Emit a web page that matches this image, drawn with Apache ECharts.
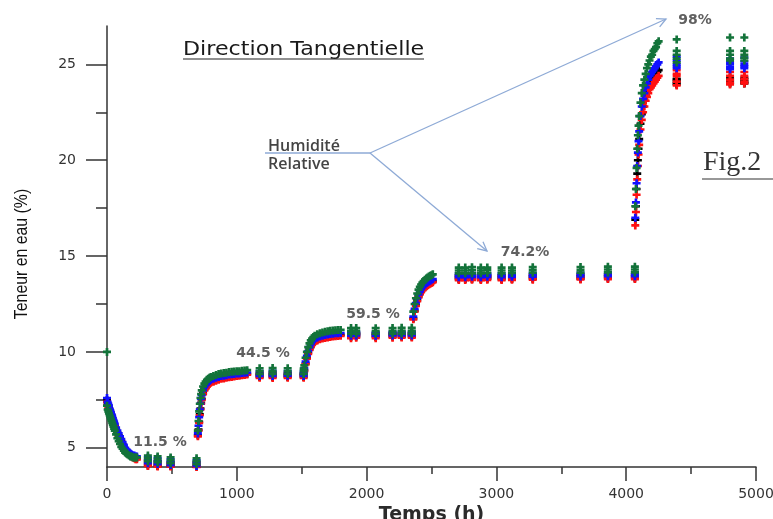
<!DOCTYPE html>
<html>
<head>
<meta charset="utf-8">
<script src="https://cdn.jsdelivr.net/npm/echarts@6/dist/echarts.min.js"></script>
<style>
  html, body { margin: 0; padding: 0; background: #fff; }
  #main { width: 773px; height: 519px; }
</style>
</head>
<body>
<div id="main"></div>
<script>
// temps de mesure (h), partagés par les 4 échantillons
const temps = [
  // 11.5 %
  0, 5, 10, 15, 20, 25, 30, 35, 40, 45, 50, 55, 60, 70, 80, 90, 100, 110, 120, 130, 140, 150, 160, 170, 180, 190, 200, 210, 220, 230,
  315, 315, 315, 390, 390, 390, 490, 490, 490, 690, 690, 690,
  // 44.5 %
  700, 705, 710, 715, 720, 725, 730, 740, 750, 760, 770, 780, 790, 800, 820, 840, 860, 880, 900, 920, 940, 960, 980, 1000, 1020, 1040, 1060, 1080,
  1176, 1176, 1176, 1276, 1276, 1276, 1392, 1392, 1392, 1515, 1515, 1515,
  // 59.5 %
  1520, 1530, 1540, 1550, 1560, 1570, 1580, 1590, 1600, 1620, 1640, 1660, 1680, 1700, 1720, 1740, 1760, 1780, 1800,
  1880, 1880, 1880, 1920, 1920, 1920, 2070, 2070, 2070, 2200, 2200, 2200, 2270, 2270, 2270, 2348, 2348, 2348,
  // 74.2 %
  2360, 2370, 2380, 2390, 2400, 2410, 2420, 2430, 2440, 2450, 2460, 2470, 2480, 2490, 2500, 2510,
  2710, 2710, 2710, 2760, 2760, 2760, 2812, 2812, 2812, 2880, 2880, 2880, 2930, 2930, 2930, 3040, 3040, 3040,
  3120, 3120, 3120, 3280, 3280, 3280, 3648, 3648, 3648, 3859, 3859, 3859, 4067, 4067, 4067,
  // 98 %
  4070, 4075, 4080, 4085, 4090, 4095, 4100, 4110, 4120, 4130, 4140, 4150, 4160, 4170, 4180, 4190, 4200, 4210, 4220, 4230, 4240, 4250,
  4389, 4389, 4389, 4389, 4389, 4800, 4800, 4800, 4800, 4800, 4910, 4910, 4910, 4910, 4910
];

const teneurNoir = [
  7.5, 7.3, 7.2, 7.1, 7.0, 6.9, 6.8, 6.7, 6.55, 6.45, 6.35, 6.25, 6.15, 5.95, 5.8, 5.65, 5.5, 5.35, 5.2, 5.05, 4.95, 4.85, 4.75, 4.7, 4.65, 4.6, 4.55, 4.5, 4.5, 4.45,
  4.35, 4.2, 4.08, 4.3, 4.15, 4.05, 4.25, 4.12, 4.05, 4.25, 4.1, 4.02,
  5.65, 5.95, 6.35, 6.75, 7.05, 7.35, 7.55, 7.85, 8.05, 8.15, 8.25, 8.35, 8.4, 8.45, 8.5, 8.55, 8.6, 8.65, 8.67, 8.7, 8.72, 8.74, 8.76, 8.78, 8.8, 8.82, 8.84, 8.86,
  8.9, 8.8, 8.7, 8.92, 8.8, 8.7, 8.9, 8.78, 8.7, 8.88, 8.8, 8.7,
  9.05, 9.4, 9.7, 9.95, 10.15, 10.3, 10.42, 10.5, 10.57, 10.65, 10.7, 10.75, 10.78, 10.81, 10.83, 10.85, 10.87, 10.88, 10.89,
  11.0, 10.9, 10.78, 11.0, 10.9, 10.8, 10.98, 10.88, 10.78, 11.0, 10.9, 10.8, 11.0, 10.9, 10.8, 11.0, 10.9, 10.8,
  11.75, 12.15, 12.45, 12.7, 12.9, 13.05, 13.17, 13.27, 13.35, 13.42, 13.48, 13.53, 13.57, 13.61, 13.65, 13.69,
  14.0, 13.9, 13.8, 14.0, 13.9, 13.8, 14.02, 13.9, 13.8, 14.0, 13.9, 13.8, 14.0, 13.92, 13.82, 14.0, 13.9, 13.8,
  14.0, 13.9, 13.8, 14.02, 13.92, 13.82, 14.02, 13.92, 13.82, 14.05, 13.95, 13.85, 14.05, 13.95, 13.85,
  16.9, 17.6, 18.5, 19.3, 20.0, 20.6, 21.1, 21.9, 22.4, 22.8, 23.1, 23.4, 23.6, 23.8, 24.0, 24.1, 24.2, 24.3, 24.4, 24.5, 24.6, 24.7,
  24.25, 24.2, 24.1, 24.0, 23.95, 24.3, 24.2, 24.15, 24.05, 24.0, 24.3, 24.2, 24.1, 24.05, 24.0
];

const teneurRouge = [
  7.4, 7.2, 7.1, 7.0, 6.9, 6.8, 6.7, 6.6, 6.5, 6.4, 6.3, 6.2, 6.1, 5.9, 5.75, 5.6, 5.45, 5.3, 5.15, 5.0, 4.9, 4.8, 4.7, 4.65, 4.6, 4.55, 4.5, 4.45, 4.4, 4.4,
  4.3, 4.15, 4.05, 4.25, 4.1, 4.02, 4.2, 4.08, 4.02, 4.2, 4.05, 4.0,
  5.6, 5.9, 6.3, 6.7, 7.0, 7.3, 7.5, 7.8, 8.0, 8.1, 8.2, 8.3, 8.35, 8.4, 8.45, 8.5, 8.55, 8.6, 8.62, 8.65, 8.68, 8.7, 8.72, 8.74, 8.76, 8.78, 8.8, 8.82,
  8.85, 8.75, 8.65, 8.86, 8.75, 8.64, 8.85, 8.74, 8.65, 8.84, 8.75, 8.65,
  9.0, 9.35, 9.65, 9.9, 10.1, 10.25, 10.37, 10.45, 10.52, 10.6, 10.66, 10.7, 10.73, 10.76, 10.78, 10.8, 10.82, 10.83, 10.84,
  10.95, 10.85, 10.72, 10.95, 10.85, 10.74, 10.94, 10.84, 10.72, 10.95, 10.85, 10.74, 10.96, 10.86, 10.75, 10.96, 10.86, 10.75,
  11.7, 12.1, 12.4, 12.65, 12.85, 13.0, 13.12, 13.22, 13.3, 13.37, 13.43, 13.48, 13.52, 13.56, 13.6, 13.64,
  13.95, 13.85, 13.75, 13.95, 13.85, 13.75, 13.96, 13.86, 13.76, 13.95, 13.85, 13.75, 13.95, 13.86, 13.76, 13.95, 13.85, 13.75,
  13.95, 13.85, 13.76, 13.97, 13.87, 13.77, 13.97, 13.87, 13.78, 14.0, 13.9, 13.8, 14.0, 13.9, 13.8,
  16.6, 17.3, 18.2, 19.0, 19.7, 20.3, 20.8, 21.6, 22.1, 22.5, 22.8, 23.1, 23.3, 23.5, 23.7, 23.8, 23.9, 24.0, 24.1, 24.2, 24.3, 24.4,
  24.7, 24.5, 24.4, 24.1, 23.9, 24.6, 24.4, 24.2, 24.05, 23.95, 24.6, 24.4, 24.25, 24.1, 24.0
];

const teneurBleu = [
  7.6, 7.4, 7.3, 7.2, 7.05, 6.95, 6.85, 6.75, 6.65, 6.55, 6.45, 6.35, 6.25, 6.05, 5.9, 5.75, 5.6, 5.45, 5.3, 5.15, 5.0, 4.9, 4.8, 4.75, 4.7, 4.65, 4.6, 4.6, 4.55, 4.55,
  4.5, 4.35, 4.2, 4.45, 4.3, 4.15, 4.4, 4.25, 4.1, 4.35, 4.2, 4.05,
  5.75, 6.15, 6.6, 7.0, 7.3, 7.55, 7.75, 8.0, 8.17, 8.28, 8.38, 8.45, 8.5, 8.55, 8.6, 8.65, 8.7, 8.74, 8.76, 8.79, 8.82, 8.84, 8.85, 8.87, 8.88, 8.9, 8.92, 8.93,
  9.0, 8.85, 8.75, 9.02, 8.86, 8.75, 9.0, 8.85, 8.76, 8.98, 8.85, 8.75,
  9.15, 9.5, 9.8, 10.05, 10.25, 10.4, 10.52, 10.6, 10.67, 10.75, 10.8, 10.85, 10.88, 10.91, 10.93, 10.95, 10.97, 10.98, 10.99,
  11.05, 10.95, 10.85, 11.05, 10.95, 10.86, 11.04, 10.94, 10.85, 11.05, 10.95, 10.86, 11.06, 10.96, 10.86, 11.06, 10.96, 10.86,
  11.85, 12.25, 12.55, 12.8, 13.0, 13.15, 13.28, 13.38, 13.46, 13.53, 13.59, 13.64, 13.68, 13.72, 13.76, 13.8,
  14.1, 14.0, 13.9, 14.1, 14.0, 13.9, 14.12, 14.02, 13.92, 14.1, 14.0, 13.9, 14.1, 14.02, 13.92, 14.1, 14.0, 13.9,
  14.1, 14.0, 13.92, 14.12, 14.02, 13.93, 14.13, 14.03, 13.94, 14.15, 14.05, 13.95, 14.15, 14.05, 13.95,
  17.0, 17.8, 18.8, 19.7, 20.4, 21.0, 21.5, 22.3, 22.8, 23.2, 23.5, 23.8, 24.0, 24.2, 24.4, 24.5, 24.6, 24.7, 24.8, 24.9, 25.0, 25.1,
  25.4, 25.2, 25.0, 24.9, 24.8, 25.3, 25.1, 25.0, 24.85, 24.75, 25.35, 25.15, 25.0, 24.9, 24.8
];

const teneurVert = [
  7.2, 7.0, 6.9, 6.8, 6.7, 6.6, 6.5, 6.4, 6.3, 6.2, 6.1, 6.0, 5.9, 5.7, 5.5, 5.35, 5.2, 5.05, 4.95, 4.85, 4.75, 4.7, 4.65, 4.6, 4.55, 4.55, 4.5, 4.5, 4.5, 4.5,
  4.6, 4.45, 4.3, 4.55, 4.4, 4.25, 4.5, 4.35, 4.2, 4.45, 4.3, 4.15,
  5.9, 6.4, 6.9, 7.3, 7.6, 7.8, 8.0, 8.2, 8.35, 8.45, 8.55, 8.6, 8.65, 8.7, 8.75, 8.8, 8.85, 8.88, 8.9, 8.92, 8.95, 8.97, 8.98, 9.0, 9.0, 9.02, 9.03, 9.05,
  9.15, 9.0, 8.85, 9.16, 9.0, 8.86, 9.15, 9.0, 8.85, 9.13, 9.0, 8.85,
  9.3, 9.7, 10.0, 10.25, 10.45, 10.6, 10.7, 10.78, 10.85, 10.92, 10.98, 11.02, 11.05, 11.08, 11.1, 11.12, 11.13, 11.14, 11.15,
  11.25, 11.1, 10.95, 11.25, 11.1, 10.96, 11.24, 11.08, 10.95, 11.25, 11.1, 10.96, 11.26, 11.1, 10.96, 11.26, 11.1, 10.96,
  12.1, 12.5, 12.8, 13.05, 13.25, 13.4, 13.52, 13.62, 13.7, 13.77, 13.83, 13.88, 13.93, 13.97, 14.0, 14.05,
  14.4, 14.25, 14.1, 14.4, 14.25, 14.1, 14.42, 14.26, 14.1, 14.4, 14.25, 14.1, 14.4, 14.26, 14.12, 14.4, 14.25, 14.1,
  14.4, 14.25, 14.12, 14.42, 14.27, 14.13, 14.43, 14.28, 14.14, 14.45, 14.3, 14.15, 14.45, 14.3, 14.15,
  17.6, 18.5, 19.6, 20.6, 21.3, 21.8, 22.3, 23.0, 23.5, 23.9, 24.2, 24.5, 24.8, 25.0, 25.2, 25.4, 25.5, 25.7, 25.8, 25.9, 26.1, 26.2,
  26.3, 25.7, 25.5, 25.3, 25.1, 26.4, 25.7, 25.5, 25.3, 25.2, 26.4, 25.7, 25.5, 25.35, 25.2
];

// point isolé (vert) sur l'axe des ordonnées
const pointIsoleVert = [[0, 10]];

const ticksMajeursY = [5, 10, 15, 20, 25];
const ticksMineursY = [7.5, 12.5, 17.5, 22.5];

const plusSymbol = 'path://M3,0H6V3H9V6H6V9H3V6H0V3H3Z';

function points(vals) {
  return temps.map(function (t, i) { return [t, vals[i]]; });
}

function serie(name, color, data) {
  return {
    name: name,
    type: 'scatter',
    symbol: plusSymbol,
    symbolSize: 8,
    itemStyle: { color: color, opacity: 1 },
    emphasis: { disabled: true },
    data: data
  };
}

// flèche avec pointe ouverte (annotation)
function fleche(x1, y1, x2, y2) {
  let dx = x2 - x1, dy = y2 - y1;
  let len = Math.sqrt(dx * dx + dy * dy);
  let ux = dx / len, uy = dy / len;
  let nx = -uy, ny = ux;
  let h = 9, w = 4.5;
  let style = { stroke: '#8eaad6', lineWidth: 1.3, fill: null };
  return [
    { type: 'line', shape: { x1: x1, y1: y1, x2: x2, y2: y2 }, style: style },
    {
      type: 'polyline',
      shape: { points: [[x2 - h * ux + w * nx, y2 - h * uy + w * ny], [x2, y2], [x2 - h * ux - w * nx, y2 - h * uy - w * ny]] },
      style: style
    }
  ];
}

function texte(x, y, txt, font, color, align) {
  return {
    type: 'text', x: x, y: y,
    style: { text: txt, font: font, fill: color, align: align || 'left', verticalAlign: 'middle' }
  };
}

const axisColor = '#333';
const labelFont = 'DejaVu Sans';
const pctFont = 'bold 14px "DejaVu Sans"';

let chart = echarts.init(document.getElementById('main'));
chart.setOption({
  animation: false,
  backgroundColor: '#fff',
  grid: { left: 107, right: 17, top: 26, bottom: 52, outerBoundsMode: 'none', containLabel: false },
  xAxis: {
    type: 'value',
    min: 0,
    max: 5000,
    interval: 1000,
    name: 'Temps (h)',
    nameLocation: 'middle',
    nameGap: 35,
    nameTextStyle: { fontFamily: labelFont, fontWeight: 'bold', fontSize: 19, color: '#2b2b2b' },
    axisLine: { onZero: false, lineStyle: { color: axisColor, width: 1.5 } },
    axisTick: { length: 14, lineStyle: { color: axisColor, width: 1.5 } },
    minorTick: { show: true, splitNumber: 2, length: 7, lineStyle: { color: axisColor, width: 1.5 } },
    axisLabel: {
      margin: 20, fontFamily: labelFont, fontSize: 14, color: '#333',
      formatter: function (v) { return String(v); }
    },
    splitLine: { show: false },
    minorSplitLine: { show: false }
  },
  yAxis: [
    {
      type: 'value',
      min: 4,
      max: 27,
      axisLine: { show: true, onZero: false, lineStyle: { color: axisColor, width: 1.5 } },
      axisTick: { show: true, length: 21, customValues: ticksMajeursY, lineStyle: { color: axisColor, width: 1.5 } },
      axisLabel: { customValues: ticksMajeursY, margin: 31, fontFamily: labelFont, fontSize: 14, color: '#333' },
      splitLine: { show: false }
    },
    {
      type: 'value',
      min: 4,
      max: 27,
      position: 'left',
      axisLine: { show: false, onZero: false },
      axisTick: { show: true, length: 11, customValues: ticksMineursY, lineStyle: { color: axisColor, width: 1.5 } },
      axisLabel: { show: false },
      splitLine: { show: false }
    }
  ],
  series: [
    serie('Noir', '#000000', points(teneurNoir)),
    serie('Rouge', '#ff1010', points(teneurRouge)),
    serie('Bleu', '#1010ff', points(teneurBleu)),
    serie('Vert', '#13733a', points(teneurVert).concat(pointIsoleVert))
  ],
  graphic: [
    // titre de l'axe des ordonnées (police étroite)
    {
      type: 'text', x: 22, y: 254, rotation: Math.PI / 2, scaleX: 0.88,
      style: { text: 'Teneur en eau (%)', font: '18px "Liberation Sans"', fill: '#111', align: 'center', verticalAlign: 'middle' }
    },
    {
      type: 'text', x: 183, y: 50, scaleX: 1.11,
      style: { text: 'Direction Tangentielle', font: '20px "DejaVu Sans"', fill: '#1a1a1a', align: 'left', verticalAlign: 'middle' }
    },
    { type: 'line', shape: { x1: 183, y1: 59, x2: 424, y2: 59 }, style: { stroke: '#222', lineWidth: 1.2 } },
    texte(268, 146, 'Humidité', '600 16px "Open Sans"', '#444'),
    texte(268, 164, 'Relative', '600 16px "Open Sans"', '#444'),
    { type: 'line', shape: { x1: 265, y1: 153, x2: 370, y2: 153 }, style: { stroke: '#8eaad6', lineWidth: 1.3 } }
  ].concat(fleche(370, 153, 666, 19))
   .concat(fleche(370, 153, 487, 251))
   .concat([
    texte(695, 20, '98%', pctFont, '#606060', 'center'),
    texte(525, 252, '74.2%', pctFont, '#606060', 'center'),
    texte(373, 314, '59.5 %', pctFont, '#606060', 'center'),
    texte(263, 353, '44.5 %', pctFont, '#606060', 'center'),
    texte(160, 442, '11.5 %', pctFont, '#606060', 'center'),
    texte(703, 163, 'Fig.2', '28px "Liberation Serif"', '#333'),
    { type: 'line', shape: { x1: 702, y1: 179, x2: 773, y2: 179 }, style: { stroke: '#333', lineWidth: 1.2 } }
  ])
});
</script>
</body>
</html>
